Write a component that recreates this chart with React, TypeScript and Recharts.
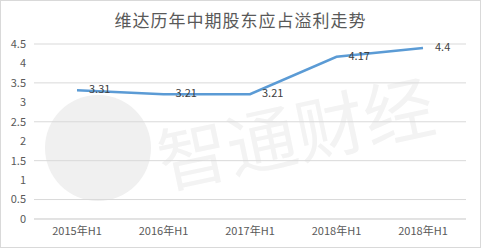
import { CartesianGrid, LabelList, Line, LineChart, XAxis, YAxis } from "recharts";

const categories = ["2015年H1", "2016年H1", "2017年H1", "2018年H1", "2018年H1"];
const profit = [3.31, 3.21, 3.21, 4.17, 4.4];
const yTicks = [0, 0.5, 1, 1.5, 2, 2.5, 3, 3.5, 4, 4.5];

const data = categories.map((name, i) => ({ name, profit: profit[i] }));

const FONT = "'Noto Sans CJK SC', 'Noto Sans', sans-serif";
const W = 481;
const H = 248;

// Data labels sit to the right of each point, vertically centered on it.
function RightLabel(props: any) {
  const { x, y, value } = props;
  return (
    <text
      x={Number(x) + 12}
      y={Number(y)}
      dominantBaseline="middle"
      fontSize={11}
      fill="#404040"
      fontFamily={FONT}
    >
      {value}
    </text>
  );
}

export default function App() {
  return (
    <div
      style={{
        position: "absolute",
        left: 0,
        top: 0,
        width: W,
        height: H,
        background: "#fff",
        fontFamily: FONT,
      }}
    >
      {/* watermark behind the chart */}
      <svg width={W} height={H} style={{ position: "absolute", left: 0, top: 0 }}>
        <circle cx={98} cy={148} r={53} fill="#f0f0f0" />
        <text
          x={295}
          y={160}
          textAnchor="middle"
          fontSize={70}
          fill="#f3f3f3"
          fontFamily={FONT}
          transform="rotate(-12 295 130)"
        >
          智通财经
        </text>
      </svg>
      <div
        style={{
          position: "absolute",
          left: 0,
          top: 7,
          width: W,
          textAlign: "center",
          fontSize: 17,
          color: "#595959",
          letterSpacing: 1,
        }}
      >
        维达历年中期股东应占溢利走势
      </div>
      <div style={{ position: "absolute", left: 0, top: 0 }}>
        <LineChart
          width={W}
          height={H}
          data={data}
          margin={{ top: 44, right: 15, bottom: 5, left: 0 }}
        >
          <CartesianGrid stroke="#d9d9d9" vertical={false} />
          <XAxis
            dataKey="name"
            tickLine={false}
            axisLine={{ stroke: "#d9d9d9" }}
            tick={{ fontSize: 11, fill: "#595959", fontFamily: FONT }}
            height={24}
            interval={0}
            padding={{ left: 43, right: 43 }}
          />
          <YAxis
            domain={[0, 4.5]}
            ticks={yTicks}
            tickLine={false}
            axisLine={false}
            width={34}
            tick={{ fontSize: 11, fill: "#595959", fontFamily: FONT }}
          />
          <Line
            type="linear"
            dataKey="profit"
            stroke="#5b9bd5"
            strokeWidth={2.5}
            dot={false}
            isAnimationActive={false}
          >
            <LabelList dataKey="profit" content={RightLabel} />
          </Line>
        </LineChart>
      </div>
      <div
        style={{
          position: "absolute",
          left: 0,
          top: 0,
          width: W - 2,
          height: H - 2,
          border: "1px solid #d9d9d9",
          pointerEvents: "none",
        }}
      />
    </div>
  );
}
